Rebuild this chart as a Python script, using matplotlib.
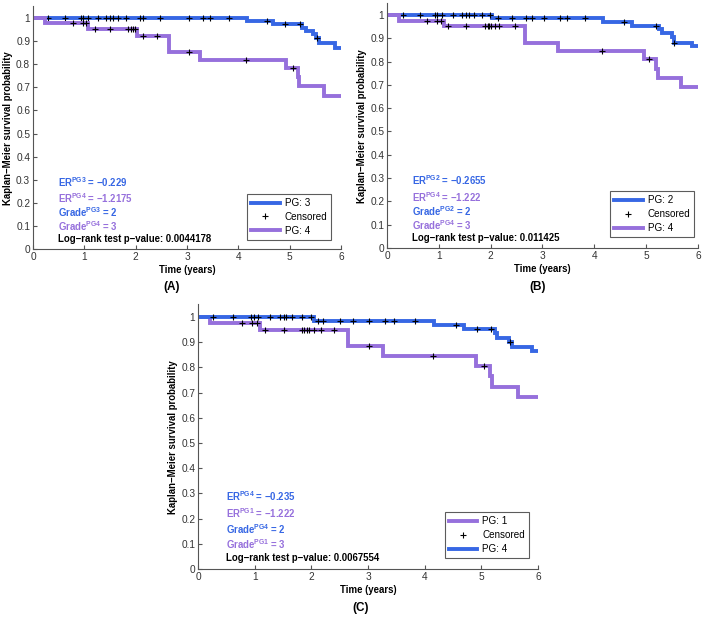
import numpy as np
import matplotlib
matplotlib.use("Agg")
import matplotlib.pyplot as plt

plt.rcParams['font.family'] = ['Liberation Sans', 'DejaVu Sans']
plt.rcParams['mathtext.fontset'] = 'custom'
plt.rcParams['mathtext.rm'] = 'Liberation Sans'
plt.rcParams['mathtext.bf'] = 'Liberation Sans:bold'

BLUE = '#3767e4'
PURPLE = '#9670dc'
END = 5.99
FS = 6.9

# ---- Panel A: PG 3 vs PG 4 ----
a_pg3_t = [4.16, 4.68, 5.24, 5.31, 5.45, 5.52, 5.58, 5.89]
a_pg3_s = [0.987, 0.973, 0.958, 0.945, 0.93, 0.915, 0.89, 0.87]
a_pg3_ct = [0.29, 0.62, 0.94, 0.98, 1.07, 1.27, 1.43, 1.50, 1.56, 1.66, 1.82,
            2.08, 2.15, 2.47, 3.03, 3.32, 3.45, 3.81, 4.55, 4.91, 5.20, 5.54]
a_pg4_t = [0.23, 1.07, 2.02, 2.64, 3.25, 4.93, 5.16, 5.19, 5.66]
a_pg4_s = [0.978, 0.952, 0.923, 0.853, 0.819, 0.783, 0.743, 0.704, 0.662]
a_pg4_ct = [0.78, 0.98, 1.04, 1.20, 1.50, 1.85, 1.91, 1.95, 1.98, 2.15, 2.42,
            3.03, 4.14, 5.06]

# ---- Panel B: PG 2 vs PG 4 ----
b_pg2_t = [2.02, 4.17, 4.72, 5.24, 5.30, 5.49, 5.54, 5.89]
b_pg2_s = [0.986, 0.97, 0.954, 0.94, 0.923, 0.905, 0.881, 0.867]
b_pg2_ct = [0.31, 0.64, 0.93, 0.96, 1.07, 1.28, 1.45, 1.52, 1.58, 1.67, 1.83,
            1.99, 2.14, 2.41, 2.69, 2.79, 3.02, 3.34, 3.47, 3.82, 4.58, 5.20, 5.54]
b_pg4_t = [0.24, 1.09, 2.66, 3.29, 4.95, 5.19, 5.22, 5.68]
b_pg4_s = [0.976, 0.951, 0.881, 0.846, 0.809, 0.77, 0.731, 0.691]
b_pg4_ct = [0.77, 0.96, 1.04, 1.18, 1.52, 1.89, 1.94, 1.97, 2.01, 2.08, 2.16,
            2.46, 4.14, 5.06]

# ---- Panel C: PG 1 vs PG 4 ----
c_pg1_t = [0.22, 1.09, 2.65, 3.27, 4.91, 5.15, 5.19, 5.64]
c_pg1_s = [0.976, 0.95, 0.884, 0.847, 0.804, 0.765, 0.723, 0.683]
c_pg1_ct = [0.77, 0.95, 1.04, 1.18, 1.52, 1.83, 1.87, 1.92, 1.96, 2.04, 2.17,
            2.40, 3.02, 4.14, 5.04]
c_pg4_t = [2.05, 4.16, 4.69, 5.24, 5.27, 5.48, 5.54, 5.89]
c_pg4_s = [0.984, 0.968, 0.952, 0.937, 0.918, 0.901, 0.881, 0.865]
c_pg4_ct = [0.27, 0.62, 0.94, 0.98, 1.06, 1.27, 1.45, 1.51, 1.56, 1.65, 1.83,
            1.99, 2.12, 2.21, 2.51, 2.74, 3.01, 3.30, 3.45, 3.83, 4.56, 4.92,
            5.17, 5.51]


def km_step(t, s):
    tt = np.r_[0.0, t, END]
    ss = np.r_[1.0, s, s[-1]]
    return tt, ss


def cens_y(t, s, ct):
    tt = np.r_[0.0, t]
    ss = np.r_[1.0, s]
    idx = np.searchsorted(tt, ct, side='right') - 1
    return ss[idx]


def draw_curve(ax, t, s, ct, color, label, cens_label):
    tt, ss = km_step(t, s)
    ax.step(tt, ss, where='post', color=color, lw=2.8, label=label,
            solid_joinstyle='miter')
    ax.plot(ct, cens_y(t, s, ct), '+', color='k', ms=5, mew=0.8,
            ls='none', label=cens_label)


def setup(ax, texts, pval, leg_anchor):
    ax.set_xlim(0, 6)
    ax.set_ylim(0, 1.05)
    ax.set_xticks(range(7))
    ax.set_yticks(np.arange(0, 1.01, 0.1))
    ax.set_yticklabels(['0', '0.1', '0.2', '0.3', '0.4', '0.5', '0.6',
                        '0.7', '0.8', '0.9', '1'])
    for sp in ['top', 'right']:
        ax.spines[sp].set_visible(False)
    for sp in ['left', 'bottom']:
        ax.spines[sp].set_color('#555555')
        ax.spines[sp].set_linewidth(0.8)
    ax.tick_params(direction='in', length=3, labelsize=7.3, colors='#555555',
                   labelcolor='#333333', pad=2)
    ax.set_xlabel('Time (years)', fontsize=FS, fontweight='bold', labelpad=2)
    ax.set_ylabel('Kaplan\u2212Meier survival probability', fontsize=FS,
                  fontweight='bold', labelpad=2)
    ys = [0.29, 0.22, 0.16, 0.10]
    for (txt, col), y in zip(texts, ys):
        ax.text(0.49, y, txt, color=col, fontsize=FS, fontweight='bold',
                va='center', ha='left')
    ax.text(0.49, 0.045, 'Log\u2212rank test p\u2212value: ' + pval, color='k',
            fontsize=FS, fontweight='bold', va='center', ha='left')
    leg = ax.legend(loc='lower right', bbox_to_anchor=leg_anchor, fontsize=7.1,
                    frameon=True, fancybox=False, edgecolor='#333333',
                    handlelength=2.9, borderpad=0.4, labelspacing=0.4,
                    handletextpad=0.5, borderaxespad=0.2)
    leg.get_frame().set_linewidth(0.8)


fig = plt.figure(figsize=(7.05, 6.18), dpi=100)

axA = fig.add_axes([0.0468, 0.597, 0.4369, 0.3925])
draw_curve(axA, a_pg3_t, a_pg3_s, a_pg3_ct, BLUE, 'PG: 3', 'Censored')
draw_curve(axA, a_pg4_t, a_pg4_s, a_pg4_ct, PURPLE, 'PG: 4', None)
setup(axA, [('ER$^{\\mathbf{PG3}}$ = \u22120.229', BLUE),
            ('ER$^{\\mathbf{PG4}}$ = \u22121.2175', PURPLE),
            ('Grade$^{\\mathbf{PG3}}$ = 2', BLUE),
            ('Grade$^{\\mathbf{PG4}}$ = 3', PURPLE)],
      '0.0044178', (0.975, 0.03))

axB = fig.add_axes([0.549, 0.5987, 0.441, 0.396])
draw_curve(axB, b_pg2_t, b_pg2_s, b_pg2_ct, BLUE, 'PG: 2', 'Censored')
draw_curve(axB, b_pg4_t, b_pg4_s, b_pg4_ct, PURPLE, 'PG: 4', None)
setup(axB, [('ER$^{\\mathbf{PG2}}$ = \u22120.2655', BLUE),
            ('ER$^{\\mathbf{PG4}}$ = \u22121.222', PURPLE),
            ('Grade$^{\\mathbf{PG2}}$ = 2', BLUE),
            ('Grade$^{\\mathbf{PG4}}$ = 3', PURPLE)],
      '0.011425', (0.995, 0.037))

axC = fig.add_axes([0.2809, 0.0793, 0.4822, 0.428])
draw_curve(axC, c_pg1_t, c_pg1_s, c_pg1_ct, PURPLE, 'PG: 1', 'Censored')
draw_curve(axC, c_pg4_t, c_pg4_s, c_pg4_ct, BLUE, 'PG: 4', None)
setup(axC, [('ER$^{\\mathbf{PG4}}$ = \u22120.235', BLUE),
            ('ER$^{\\mathbf{PG1}}$ = \u22121.222', PURPLE),
            ('Grade$^{\\mathbf{PG4}}$ = 2', BLUE),
            ('Grade$^{\\mathbf{PG1}}$ = 3', PURPLE)],
      '0.0067554', (0.979, 0.034))

for lbl, x, y in [('(A)', 0.244, 0.5356), ('(B)', 0.763, 0.5356),
                  ('(C)', 0.511, 0.0162)]:
    fig.text(x, y, lbl, ha='center', va='center', fontsize=8.5,
             fontweight='bold')

fig.savefig('out.png', dpi=100)
